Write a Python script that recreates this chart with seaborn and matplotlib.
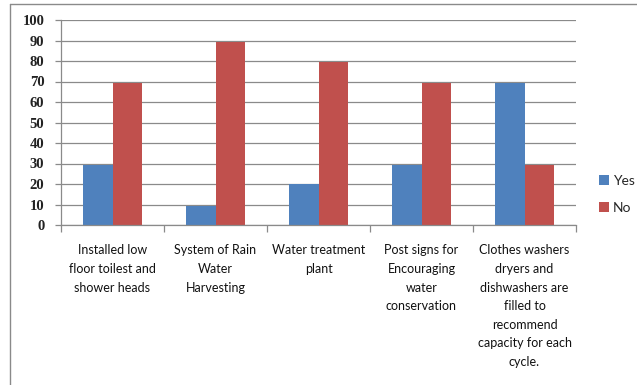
import matplotlib
matplotlib.use("Agg")
import matplotlib.pyplot as plt
from matplotlib.lines import Line2D
from matplotlib.patches import Patch
import seaborn as sns
import pandas as pd

categories = [
    "Installed low\nfloor toilest and\nshower heads",
    "System of Rain\nWater\nHarvesting",
    "Water treatment\nplant",
    "Post signs for\nEncouraging\nwater\nconservation",
    "Clothes washers\ndryers and\ndishwashers are\nfilled to\nrecommend\ncapacity for each\ncycle.",
]
yes_values = [29.5, 9.4, 20, 29.5, 69.3]
no_values = [69.3, 89.3, 79.7, 69.3, 29.5]
series = ["Yes", "No"]
colors = {"Yes": "#4F81BD", "No": "#C0504D"}

df = pd.DataFrame({
    "category": categories * 2,
    "value": yes_values + no_values,
    "series": ["Yes"] * len(categories) + ["No"] * len(categories),
})

sns.set_theme(style="white")
plt.rcParams["font.family"] = ["Lato", "DejaVu Sans"]

W, H = 637, 385
fig = plt.figure(figsize=(W / 100, H / 100), dpi=100)
ax = fig.add_axes([61 / W, (H - 225) / H, (576 - 61) / W, (225 - 20) / H])

sns.barplot(data=df, x="category", y="value", hue="series", hue_order=series,
            palette=colors, width=0.575, saturation=1, ax=ax, legend=False,
            edgecolor="none", linewidth=0)

ax.set_xlim(-0.5, len(categories) - 0.5)
ax.set_ylim(0, 100)
ax.set_yticks(range(0, 101, 10))
ax.set_yticklabels([str(v) for v in range(0, 101, 10)],
                   family="Liberation Serif", fontweight="bold", fontsize=10.5,
                   color="#222222")
ax.yaxis.grid(True, color="#8a8a8a", linewidth=0.9)
ax.set_axisbelow(True)
ax.tick_params(axis="y", length=4, width=0.9, color="#8a8a8a", pad=8, left=True)

ax.set_xticks(range(len(categories)))
ax.set_xticklabels(categories, fontsize=9.0, linespacing=1.66, color="#111111",
                   va="top")
ax.set_xticks([i - 0.5 for i in range(len(categories) + 1)], minor=True)
ax.tick_params(axis="x", which="major", length=0, pad=14)
ax.tick_params(axis="x", which="minor", length=5, width=0.9, color="#8a8a8a",
               bottom=True, direction="out")

for side in ["top", "right"]:
    ax.spines[side].set_visible(False)
for side in ["left", "bottom"]:
    ax.spines[side].set_color("#8a8a8a")
    ax.spines[side].set_linewidth(0.9)
ax.set_xlabel("")
ax.set_ylabel("")

handles = [Patch(facecolor=colors[s], edgecolor="none", label=s) for s in series]
fig.legend(handles=handles, loc="upper left",
           bbox_to_anchor=(599 / W, (H - 175) / H), frameon=False,
           borderpad=0, borderaxespad=0,
           fontsize=10, handlelength=0.7, handleheight=0.7,
           handletextpad=0.3, labelspacing=1.05)

# outer chart-area frame
fig.add_artist(Line2D([10 / W, 10 / W], [0, (H - 4) / H],
                      transform=fig.transFigure, color="#8a8a8a", linewidth=1))
fig.add_artist(Line2D([10 / W, 1], [(H - 4) / H, (H - 4) / H],
                      transform=fig.transFigure, color="#8a8a8a", linewidth=1))

fig.savefig("out.png", dpi=100)
